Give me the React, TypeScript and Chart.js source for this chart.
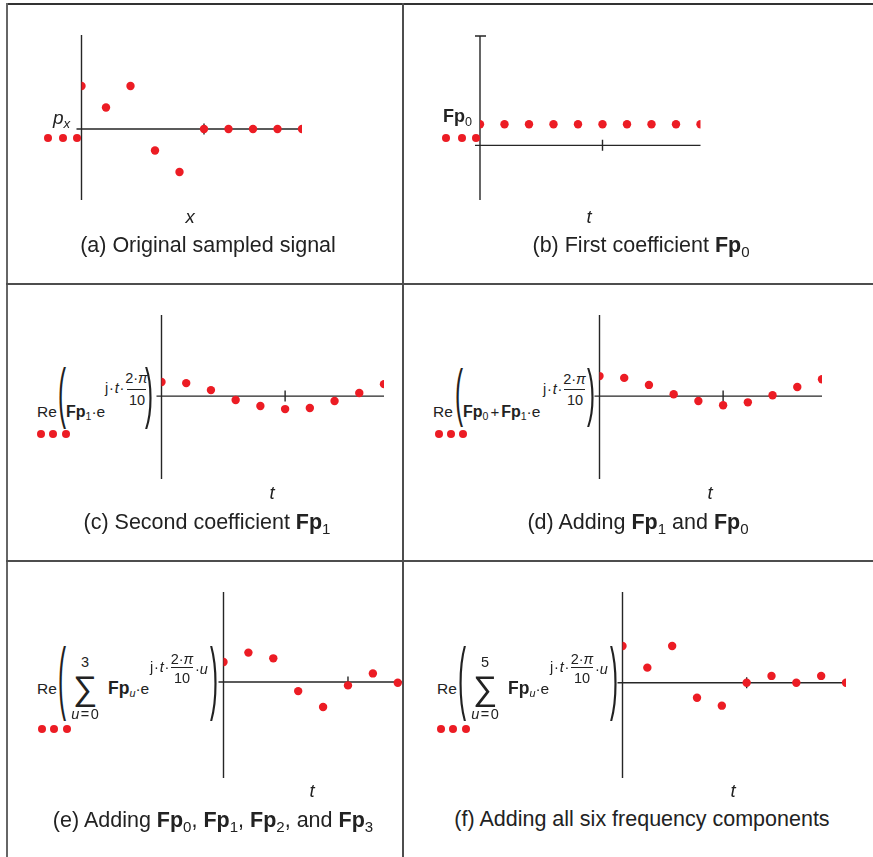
import React, { useEffect, useRef } from 'react';
import { Chart, registerables } from 'chart.js';

Chart.register(...registerables);

// ---------- data ----------
const tIndex = [0, 1, 2, 3, 4, 5, 6, 7, 8, 9];
const sampledSignal = [2, 1, 2, -1, -2, 0, 0, 0, 0, 0];
const firstCoefficient = [0.2, 0.2, 0.2, 0.2, 0.2, 0.2, 0.2, 0.2, 0.2, 0.2];
const secondCoefficient = [0.54, 0.5, 0.23, -0.15, -0.38, -0.5, -0.46, -0.19, 0.12, 0.46];
const sumFp0Fp1 = [0.77, 0.7, 0.43, 0.07, -0.19, -0.35, -0.24, 0.03, 0.35, 0.65];
const sumFp0toFp3 = [0.77, 1.13, 0.91, -0.35, -0.96, -0.13, 0.33, -0.03];
const sumAllSix = [2.0, 0.82, 2.0, -0.82, -1.25, 0, 0.37, 0, 0.37, 0];
const xTickValues = [5];

const RED = '#ec1c24';
const INK = '#222222';
const AXIS = '#262626';
const BORDER = '#4d4d4d';
const FONT = '"Liberation Sans", Arial, Helvetica, sans-serif';

const axesPlugin = {
  id: 'mcAxes',
  beforeDatasetsDraw(chart: any, _args: any, opts: any) {
    const { ctx, chartArea, scales } = chart;
    const x = scales.x;
    const y = scales.y;
    const x0 = x.getPixelForValue(0);
    const y0 = y.getPixelForValue(0);
    ctx.save();
    ctx.strokeStyle = AXIS;
    ctx.lineWidth = 1.4;
    ctx.beginPath();
    ctx.moveTo(x0, chartArea.top);
    ctx.lineTo(x0, chartArea.bottom);
    ctx.moveTo(chartArea.left - 5, y0);
    ctx.lineTo(chartArea.right, y0);
    for (const t of xTickValues) {
      if (t <= x.max) {
        const px = x.getPixelForValue(t);
        ctx.moveTo(px, y0 - 5.5);
        ctx.lineTo(px, y0 + 5.5);
      }
    }
    if (opts && opts.topTick) {
      ctx.moveTo(x0 - 5, chartArea.top);
      ctx.lineTo(x0 + 6, chartArea.top);
    }
    ctx.stroke();
    ctx.restore();
  },
};

type PanelProps = {
  values: number[];
  xMax: number;
  yMin: number;
  yMax: number;
  left: number;
  right: number;
  top: number;
  bottom: number;
  topTick?: boolean;
};

function ScatterPanel(p: PanelProps) {
  const ref = useRef<HTMLCanvasElement>(null);
  const PAD = 12;
  const cl = Math.floor(p.left - PAD);
  const ct = Math.floor(p.top - PAD);
  const cr = Math.ceil(p.right + PAD);
  const cb = Math.ceil(p.bottom + PAD);
  const w = cr - cl;
  const h = cb - ct;
  useEffect(() => {
    const chart = new Chart(ref.current as HTMLCanvasElement, {
      type: 'scatter',
      data: {
        datasets: [
          {
            data: p.values.map((v, i) => ({ x: tIndex[i], y: v })),
            pointRadius: 4.2,
            pointHoverRadius: 4.2,
            pointBackgroundColor: RED,
            pointBorderWidth: 0,
            pointBorderColor: RED,
            clip: { left: 0, right: 0, top: false, bottom: false } as any,
          },
        ],
      },
      options: {
        animation: false,
        responsive: false,
        events: [],
        layout: {
          padding: {
            left: p.left - cl,
            top: p.top - ct,
            right: cr - p.right,
            bottom: cb - p.bottom,
          },
        },
        plugins: {
          legend: { display: false },
          tooltip: { enabled: false },
          mcAxes: { topTick: !!p.topTick },
        } as any,
        scales: {
          x: { type: 'linear', min: 0, max: p.xMax, display: false },
          y: { type: 'linear', min: p.yMin, max: p.yMax, display: false },
        },
      },
      plugins: [axesPlugin],
    });
    return () => chart.destroy();
  }, []);
  return (
    <canvas
      ref={ref}
      width={w}
      height={h}
      style={{ position: 'absolute', left: cl, top: ct, width: w, height: h }}
    />
  );
}

// ---------- text helpers ----------
type TxtProps = {
  x: number;
  y: number;
  size?: number;
  center?: boolean;
  italic?: boolean;
  bold?: boolean;
  children: React.ReactNode;
  style?: React.CSSProperties;
};
const Txt = ({ x, y, size = 15.5, center, italic, bold, children, style }: TxtProps) => (
  <span
    style={{
      position: 'absolute',
      left: x,
      top: y,
      fontFamily: FONT,
      fontSize: size,
      lineHeight: 1,
      color: INK,
      whiteSpace: 'nowrap',
      fontStyle: italic ? 'italic' : 'normal',
      fontWeight: bold ? 'bold' : 'normal',
      transform: center ? 'translate(-50%,-50%)' : 'translateY(-50%)',
      ...style,
    }}
  >
    {children}
  </span>
);
const Sub = ({ children, italic, scale = 0.7 }: { children: React.ReactNode; italic?: boolean; scale?: number }) => (
  <span
    style={{
      fontSize: `${scale}em`,
      position: 'relative',
      top: '0.32em',
      fontWeight: 'normal',
      fontStyle: italic ? 'italic' : 'normal',
    }}
  >
    {children}
  </span>
);
const B = ({ children }: { children: React.ReactNode }) => <span style={{ fontWeight: 'bold' }}>{children}</span>;
const I = ({ children }: { children: React.ReactNode }) => <span style={{ fontStyle: 'italic' }}>{children}</span>;

const Paren = ({ cx, top, bottom, ch }: { cx: number; top: number; bottom: number; ch: string }) => {
  const size = 44;
  const sy = (bottom - top) / (0.94 * size);
  const sx = 0.55;
  const cy = (top + bottom) / 2 - 0.0885 * size * sy;
  return (
    <span
      style={{
        position: 'absolute',
        left: cx,
        top: cy,
        fontFamily: FONT,
        fontSize: size,
        lineHeight: 1,
        color: INK,
        transform: `translate(-50%,-50%) scale(${sx},${sy})`,
      }}
    >
      {ch}
    </span>
  );
};
const Bar = ({ x1, x2, y }: { x1: number; x2: number; y: number }) => (
  <div style={{ position: 'absolute', left: x1, top: y, width: x2 - x1, height: 1, background: INK }} />
);
const Dots = ({ xs, y }: { xs: number[]; y: number }) => (
  <>
    {xs.map((x, i) => (
      <div
        key={i}
        style={{
          position: 'absolute',
          left: x - 4.2,
          top: y - 4.2,
          width: 8.4,
          height: 8.4,
          borderRadius: '50%',
          background: RED,
        }}
      />
    ))}
  </>
);

const Caption = ({ x, y, children }: { x: number; y: number; children: React.ReactNode }) => (
  <Txt x={x} y={y} size={21.5} center>
    {children}
  </Txt>
);

const SumFormula = ({ dx, upper }: { dx: number; upper: string }) => (
  <>
    <Txt x={37 + dx} y={689}>Re</Txt>
    <Paren cx={61.5 + dx} top={647} bottom={722} ch="(" />
    <Txt x={85 + dx} y={662} size={14.5} center>{upper}</Txt>
    <Txt x={85 + dx} y={688} size={34} center>{'\u2211'}</Txt>
    <Txt x={85 + dx} y={714} size={14.5} center>
      <I>u</I>
      <span style={{ margin: '0 1.5px' }}>=</span>0
    </Txt>
    <Txt x={108 + dx} y={689} size={17.5}>
      <B>Fp</B>
      <Sub italic scale={0.62}>u</Sub>
      <span style={{ fontSize: 15.5 }}>{'\u00b7'}e</span>
    </Txt>
    <Txt x={150 + dx} y={667} size={14.5} style={{ letterSpacing: 0.8 }}>
      j{'\u00b7'}<I>t</I>{'\u00b7'}
    </Txt>
    <Txt x={182 + dx} y={659} size={14.5} center>
      2{'\u00b7'}<I>{'\u03c0'}</I>
    </Txt>
    <Bar x1={171 + dx} x2={193 + dx} y={667} />
    <Txt x={182 + dx} y={678} size={14.5} center>10</Txt>
    <Txt x={195 + dx} y={669} size={14.5}>
      {'\u00b7'}<I>u</I>
    </Txt>
    <Paren cx={214 + dx} top={647} bottom={722} ch=")" />
  </>
);

export default function App() {
  return (
    <div
      style={{
        position: 'absolute',
        left: 0,
        top: 0,
        width: 873,
        height: 857,
        background: '#ffffff',
        overflow: 'hidden',
      }}
    >
      {/* charts */}
      <ScatterPanel values={sampledSignal} xMax={9} yMin={-3.3} yMax={4.37} left={81.5} right={302} top={35} bottom={200} />
      <ScatterPanel values={firstCoefficient} xMax={9} yMin={-0.52} yMax={1.04} left={480} right={700.5} top={36} bottom={200} topTick />
      <ScatterPanel values={secondCoefficient} xMax={9} yMin={-3.19} yMax={3.12} left={161.5} right={384} top={315} bottom={479} />
      <ScatterPanel values={sumFp0Fp1} xMax={9} yMin={-3.19} yMax={3.12} left={599.5} right={822} top={315} bottom={479} />
      <ScatterPanel values={sumFp0toFp3} xMax={7.21} yMin={-3.69} yMax={3.46} left={223.5} right={403} top={592} bottom={778} />
      <ScatterPanel values={sumAllSix} xMax={9} yMin={-5.19} yMax={4.94} left={622.5} right={846} top={592} bottom={778} />

      {/* legend dots */}
      <Dots xs={[48, 63, 77]} y={138} />
      <Dots xs={[446, 462, 476]} y={138} />
      <Dots xs={[41, 53, 66]} y={434} />
      <Dots xs={[439, 451, 463]} y={434} />
      <Dots xs={[42, 54, 67]} y={729} />
      <Dots xs={[441, 453, 466]} y={729} />

      {/* panel a */}
      <Txt x={53} y={117} size={19} italic>
        p<Sub italic>x</Sub>
      </Txt>
      <Txt x={190} y={217} size={18.5} italic center>x</Txt>
      <Caption x={208} y={246}>(a) Original sampled signal</Caption>

      {/* panel b */}
      <Txt x={443} y={116} size={18}>
        <B>Fp</B>
        <Sub>0</Sub>
      </Txt>
      <Txt x={589} y={217} size={18.5} italic center>t</Txt>
      <Caption x={641} y={246}>
        (b) First coefficient <B>Fp</B>
        <Sub>0</Sub>
      </Caption>

      {/* panel c */}
      <Txt x={37} y={412}>Re</Txt>
      <Paren cx={61.5} top={368} bottom={430} ch="(" />
      <Txt x={66} y={412} size={16}>
        <B>Fp</B>
        <Sub scale={0.66}>1</Sub>
        <span style={{ fontSize: 15.5 }}>{'\u00b7'}e</span>
      </Txt>
      <Txt x={105} y={388} size={14.5} style={{ letterSpacing: 0.8 }}>
        j{'\u00b7'}<I>t</I>{'\u00b7'}
      </Txt>
      <Txt x={136.5} y={378} size={14.5} center>
        2{'\u00b7'}<I>{'\u03c0'}</I>
      </Txt>
      <Bar x1={127} x2={146} y={389} />
      <Txt x={137} y={400} size={14.5} center>10</Txt>
      <Paren cx={149} top={368} bottom={430} ch=")" />
      <Txt x={272} y={493} size={18.5} italic center>t</Txt>
      <Caption x={207} y={523}>
        (c) Second coefficient <B>Fp</B>
        <Sub>1</Sub>
      </Caption>

      {/* panel d */}
      <Txt x={433} y={412}>Re</Txt>
      <Paren cx={459} top={368} bottom={428} ch="(" />
      <Txt x={463} y={412} size={16}>
        <B>Fp</B>
        <Sub scale={0.66}>0</Sub>
        <span style={{ margin: '0 2px', fontSize: 15 }}>+</span>
        <B>Fp</B>
        <Sub scale={0.66}>1</Sub>
        <span style={{ fontSize: 15.5 }}>{'\u00b7'}e</span>
      </Txt>
      <Txt x={543} y={389} size={14.5} style={{ letterSpacing: 0.8 }}>
        j{'\u00b7'}<I>t</I>{'\u00b7'}
      </Txt>
      <Txt x={574.5} y={379} size={14.5} center>
        2{'\u00b7'}<I>{'\u03c0'}</I>
      </Txt>
      <Bar x1={564} x2={585} y={389} />
      <Txt x={575} y={400} size={14.5} center>10</Txt>
      <Paren cx={591} top={368} bottom={428} ch=")" />
      <Txt x={710} y={493} size={18.5} italic center>t</Txt>
      <Caption x={638} y={523}>
        (d) Adding <B>Fp</B>
        <Sub>1</Sub> and <B>Fp</B>
        <Sub>0</Sub>
      </Caption>

      {/* panel e */}
      <SumFormula dx={0} upper="3" />
      <Txt x={312} y={791} size={18.5} italic center>t</Txt>
      <Caption x={213} y={821}>
        (e) Adding <B>Fp</B>
        <Sub>0</Sub>, <B>Fp</B>
        <Sub>1</Sub>, <B>Fp</B>
        <Sub>2</Sub>, and <B>Fp</B>
        <Sub>3</Sub>
      </Caption>

      {/* panel f */}
      <SumFormula dx={400} upper="5" />
      <Txt x={733} y={791} size={18.5} italic center>t</Txt>
      <Caption x={642} y={820}>(f) Adding all six frequency components</Caption>

      {/* cell borders */}
      <div style={{ position: 'absolute', left: 6, top: 3, width: 867, height: 2, background: '#333' }} />
      <div style={{ position: 'absolute', left: 6, top: 3, width: 2, height: 854, background: '#666' }} />
      <div style={{ position: 'absolute', left: 402, top: 3, width: 2, height: 854, background: BORDER }} />
      <div style={{ position: 'absolute', left: 6, top: 283, width: 867, height: 2, background: BORDER }} />
      <div style={{ position: 'absolute', left: 6, top: 560, width: 867, height: 2, background: BORDER }} />
    </div>
  );
}
